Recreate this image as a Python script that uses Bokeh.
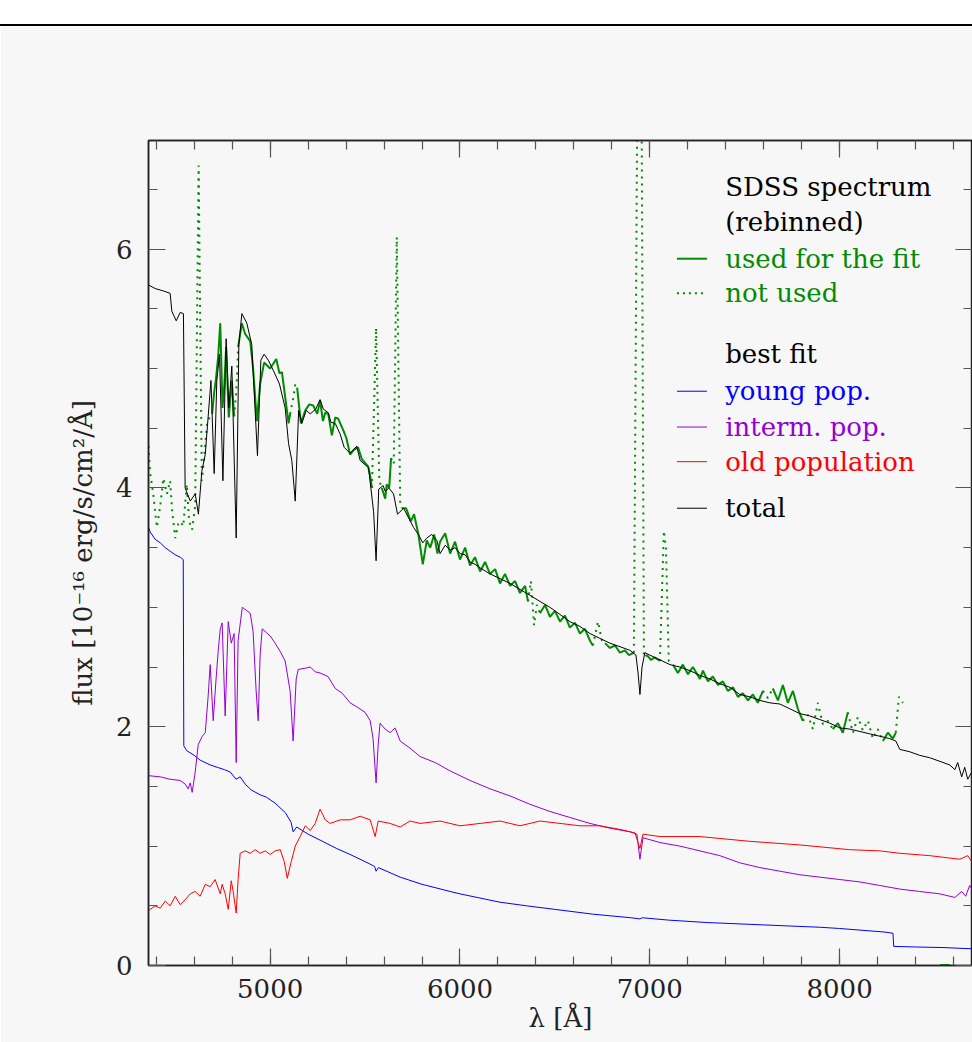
import numpy as np
from bokeh.plotting import figure
from bokeh.models import Label, SingleIntervalTicker, LinearAxis, Range1d, Div, CustomJSTickFormatter
from bokeh.layouts import column
from bokeh.embed import file_html
from bokeh.resources import INLINE

# ---------------- data (wavelength in Angstrom, flux in 1e-16 erg/s/cm2/A) -------------
young_lam = [4359, 4368, 4394, 4421, 4447, 4473, 4500, 4526, 4542, 4545, 4560, 4600, 4631, 4684,
             4721, 4760, 4790, 4820, 4842, 4868, 4900, 4947, 4980, 5026, 5080, 5110, 5121, 5140,
             5200, 5263, 5350, 5421, 5500, 5550, 5558, 5570, 5685, 5800, 5948, 6000, 6211, 6350,
             6500, 6700, 6900, 6948, 6960, 7100, 7300, 7600, 7900, 8000, 8238, 8281, 8285, 8400,
             8550, 8696]
young_flux = [3.67, 3.63, 3.57, 3.54, 3.50, 3.47, 3.44, 3.42, 3.40, 1.84, 1.80, 1.76, 1.72, 1.68,
              1.66, 1.64, 1.62, 1.56, 1.58, 1.52, 1.47, 1.43, 1.41, 1.36, 1.28, 1.20, 1.12, 1.16,
              1.10, 1.05, 0.98, 0.93, 0.87, 0.83, 0.79, 0.82, 0.74, 0.68, 0.62, 0.60, 0.53, 0.50,
              0.47, 0.43, 0.40, 0.39, 0.40, 0.38, 0.36, 0.34, 0.32, 0.31, 0.28, 0.27, 0.16, 0.155,
              0.15, 0.14]

interm_lam = [4359, 4421, 4473, 4526, 4552, 4568, 4579, 4589, 4605, 4621, 4642, 4658, 4673, 4684,
              4700, 4715, 4726, 4737, 4747, 4763, 4779, 4795, 4810, 4821, 4831, 4853, 4879, 4895,
              4910, 4926, 4937, 4947, 4958, 4979, 5000, 5026, 5053, 5079, 5105, 5121, 5137, 5148,
              5185, 5211, 5237, 5263, 5305, 5343, 5380, 5421, 5463, 5500, 5527, 5542, 5558, 5569,
              5579, 5606, 5632, 5658, 5685, 5737, 5790, 5869, 5948, 6053, 6158, 6264, 6369, 6474,
              6579, 6685, 6790, 6895, 6932, 6948, 6964, 7053, 7158, 7264, 7369, 7474, 7580, 7685,
              7790, 7896, 8001, 8107, 8212, 8317, 8422, 8528, 8607, 8643, 8664, 8685, 8696]
interm_flux = [1.59, 1.58, 1.56, 1.55, 1.52, 1.48, 1.53, 1.45, 1.62, 1.85, 1.92, 1.95, 2.25, 2.52,
               2.05, 2.40, 2.63, 2.82, 2.87, 2.09, 2.88, 2.70, 2.78, 1.70, 2.72, 3.00, 2.97, 2.95,
               2.80, 2.30, 2.05, 2.60, 2.82, 2.79, 2.76, 2.70, 2.63, 2.55, 2.30, 1.88, 2.40, 2.48,
               2.49, 2.50, 2.46, 2.45, 2.42, 2.32, 2.28, 2.20, 2.16, 2.12, 2.05, 1.90, 1.53, 1.85,
               2.03, 1.98, 1.95, 1.99, 1.88, 1.82, 1.75, 1.70, 1.63, 1.55, 1.48, 1.42, 1.35, 1.29,
               1.24, 1.19, 1.15, 1.12, 1.10, 0.89, 1.07, 1.03, 1.00, 0.96, 0.92, 0.86, 0.82, 0.79,
               0.76, 0.74, 0.72, 0.70, 0.67, 0.64, 0.62, 0.60, 0.57, 0.62, 0.58, 0.67, 0.64]

old_lam = [4359, 4394, 4421, 4447, 4473, 4500, 4526, 4552, 4579, 4605, 4631, 4658, 4684, 4710,
           4737, 4747, 4763, 4779, 4795, 4805, 4821, 4831, 4842, 4868, 4895, 4921, 4947, 4974,
           5000, 5026, 5053, 5074, 5090, 5111, 5132, 5158, 5185, 5211, 5237, 5263, 5290, 5316,
           5369, 5421, 5474, 5527, 5553, 5569, 5632, 5685, 5737, 5790, 5895, 6000, 6106, 6211,
           6316, 6421, 6527, 6632, 6737, 6843, 6922, 6948, 6964, 7053, 7264, 7527, 7790, 8054,
           8212, 8317, 8475, 8580, 8633, 8675, 8696]
old_flux = [0.46, 0.50, 0.48, 0.54, 0.50, 0.58, 0.51, 0.55, 0.60, 0.62, 0.58, 0.68, 0.66, 0.72,
            0.60, 0.68, 0.60, 0.47, 0.71, 0.62, 0.44, 0.72, 0.94, 0.96, 0.94, 0.97, 0.94, 0.96,
            0.93, 0.96, 0.97, 0.87, 0.73, 0.87, 1.00, 1.08, 1.17, 1.13, 1.19, 1.31, 1.22, 1.19,
            1.22, 1.22, 1.25, 1.22, 1.08, 1.21, 1.19, 1.16, 1.21, 1.19, 1.21, 1.17, 1.19, 1.21,
            1.17, 1.21, 1.19, 1.17, 1.17, 1.14, 1.11, 0.98, 1.10, 1.08, 1.08, 1.04, 1.01, 0.97,
            0.96, 0.94, 0.92, 0.90, 0.89, 0.92, 0.87]

total_lam = [4359, 4394, 4437, 4473, 4482, 4505, 4526, 4543, 4552, 4579, 4605, 4622, 4640, 4658,
             4688, 4705, 4719, 4733, 4751, 4768, 4782, 4798, 4821, 4835, 4851, 4877, 4903, 4933,
             4951, 4968, 4990, 5018, 5049, 5079, 5097, 5114, 5132, 5150, 5167, 5190, 5211, 5240,
             5263, 5280, 5306, 5320, 5343, 5369, 5390, 5421, 5456, 5474, 5518, 5545, 5558, 5572,
             5595, 5606, 5625, 5650, 5671, 5703, 5729, 5755, 5781, 5804, 5825, 5851, 5878, 5895,
             5922, 5948, 5974, 6000, 6027, 6053, 6079, 6106, 6158, 6211, 6264, 6316, 6369, 6421,
             6474, 6527, 6579, 6632, 6685, 6737, 6790, 6843, 6895, 6927, 6938, 6948, 6959, 6974,
             7000, 7053, 7106, 7158, 7211, 7264, 7317, 7369, 7422, 7474, 7527, 7580, 7632, 7685,
             7738, 7790, 7843, 7896, 7948, 8001, 8054, 8107, 8159, 8212, 8264, 8296, 8317, 8370,
             8422, 8475, 8528, 8580, 8607, 8622, 8643, 8659, 8675, 8696]
total_flux = [5.70, 5.67, 5.65, 5.63, 5.48, 5.40, 5.47, 5.46, 4.00, 3.89, 3.95, 3.78, 4.14, 4.28,
              4.90, 4.12, 4.90, 5.12, 4.06, 5.25, 4.67, 5.02, 3.58, 5.20, 5.46, 5.38, 5.20, 4.27,
              5.07, 5.12, 5.07, 4.98, 4.87, 4.67, 4.37, 4.23, 3.89, 4.65, 4.54, 4.65, 4.62, 4.66,
              4.74, 4.66, 4.63, 4.55, 4.54, 4.45, 4.34, 4.29, 4.35, 4.23, 4.17, 3.80, 3.39, 3.99,
              4.02, 3.97, 4.00, 3.95, 3.78, 3.83, 3.75, 3.67, 3.61, 3.54, 3.58, 3.61, 3.56, 3.45,
              3.52, 3.48, 3.50, 3.45, 3.44, 3.38, 3.36, 3.33, 3.28, 3.24, 3.20, 3.15, 3.10, 3.05,
              3.00, 2.94, 2.88, 2.84, 2.78, 2.74, 2.70, 2.67, 2.64, 2.60, 2.45, 2.27, 2.50, 2.62,
              2.60, 2.56, 2.52, 2.50, 2.47, 2.43, 2.40, 2.36, 2.33, 2.27, 2.25, 2.22, 2.20, 2.19,
              2.15, 2.11, 2.09, 2.06, 2.03, 1.99, 1.98, 1.96, 1.94, 1.92, 1.90, 1.88, 1.81, 1.79,
              1.76, 1.74, 1.71, 1.68, 1.64, 1.70, 1.58, 1.66, 1.56, 1.62]

# observed SDSS spectrum (rebinned)
sdss_lam = [4359, 4368, 4384, 4403, 4421, 4437, 4456, 4473, 4484, 4500, 4516, 4526, 4542, 4561,
            4573, 4589, 4605, 4623, 4640, 4652, 4668, 4684,
            4694, 4705, 4715, 4726, 4737, 4749, 4758, 4768, 4782, 4798,
            4810, 4821, 4826,
            4831, 4851, 4868, 4895, 4910, 4930, 4947, 4968, 5000, 5032, 5049, 5062, 5097,
            5105, 5121, 5132,
            5142, 5162, 5185, 5206, 5227, 5248, 5263, 5278, 5290, 5306, 5325, 5343, 5358, 5386,
            5401, 5421, 5442, 5463, 5483, 5516, 5527,
            5536, 5558, 5575,
            5588, 5606, 5614, 5627,
            5637, 5651, 5667, 5685,
            5694, 5716, 5741, 5758, 5781, 5804, 5825, 5843, 5853, 5864, 5881, 5895, 5922, 5948,
            5974, 6000, 6027, 6053, 6079, 6106, 6132, 6158, 6185, 6211, 6237, 6264, 6290, 6316,
            6343,
            6358, 6374, 6390, 6405,
            6421, 6448, 6474, 6500, 6527, 6553, 6579, 6606, 6632, 6658, 6685,
            6700, 6727, 6748,
            6764, 6790, 6817, 6843, 6869, 6890,
            6916, 6935, 6956, 6969,
            6985, 7006, 7027,
            7053, 7074, 7085, 7100,
            7122, 7148, 7174, 7201, 7227, 7264, 7280, 7306, 7332, 7359, 7385, 7411, 7438, 7464,
            7490, 7517, 7543, 7569,
            7596, 7622,
            7648, 7675, 7701, 7727, 7754, 7780,
            7806, 7833, 7859, 7885, 7912, 7938,
            7964, 7991, 8017,
            8043, 8070, 8096, 8122, 8149, 8175, 8201,
            8228, 8254, 8280,
            8296, 8312, 8333]
sdss_flux = [4.35, 4.12, 3.95, 3.67, 3.85, 4.08, 3.95, 4.06, 3.80, 3.58, 3.70, 3.72, 3.68, 4.03,
             3.72, 3.65, 3.85, 6.70, 4.06, 4.25, 4.55, 4.60,
             4.62, 4.80, 4.92, 5.10, 5.38, 4.67, 4.85, 5.18, 4.59, 4.90,
             4.60, 4.80, 4.95,
             5.18, 5.38, 5.29, 5.23, 5.00, 4.56, 4.87, 5.05, 5.00, 5.08, 4.96, 4.97, 4.54,
             4.62, 4.75, 4.87,
             4.84, 4.54, 4.65, 4.70, 4.69, 4.62, 4.73, 4.56, 4.63, 4.62, 4.44, 4.59, 4.58, 4.48,
             4.42, 4.28, 4.32, 4.34, 4.24, 4.18, 4.10,
             4.00, 5.34, 4.06,
             4.00, 3.91, 4.03, 4.00,
             4.25, 4.20, 6.10, 3.87,
             3.83, 3.83, 3.72, 3.78, 3.61, 3.36, 3.56, 3.50, 3.55, 3.61, 3.45, 3.55, 3.62, 3.45,
             3.55, 3.40, 3.50, 3.35, 3.42, 3.30, 3.38, 3.28, 3.32, 3.20, 3.28, 3.18, 3.22, 3.12,
             3.18,
             3.05, 3.22, 2.85, 3.02,
             2.95, 3.02, 2.92, 2.97, 2.88, 2.93, 2.83, 2.87, 2.78, 2.82, 2.72,
             2.68, 2.88, 2.72,
             2.70, 2.66, 2.68, 2.62, 2.64, 2.60,
             2.62, 7.50, 7.50, 2.58,
             2.60, 2.56, 2.58,
             2.55, 3.64, 3.50, 2.55,
             2.52, 2.45, 2.52, 2.44, 2.50, 2.40, 2.47, 2.38, 2.42, 2.35, 2.38, 2.30, 2.33, 2.25,
             2.28, 2.22, 2.27, 2.20,
             2.30, 2.24,
             2.32, 2.22, 2.35, 2.20, 2.30, 2.15,
             2.05, 2.10, 1.98, 2.20, 2.02, 2.05,
             1.98, 2.03, 1.95,
             2.12, 1.95, 2.08, 1.97, 2.05, 1.90, 1.98,
             1.88, 1.95, 1.90,
             1.95, 2.25, 2.20]
# consecutive runs of the spectrum: (used for the fit?, number of points)
sdss_runs = [(0, 22), (1, 10), (0, 3), (1, 13), (0, 3), (1, 21), (0, 3), (1, 4), (0, 4),
             (1, 29), (0, 4), (1, 11), (0, 3), (1, 6), (0, 4), (1, 3), (0, 4), (1, 18),
             (0, 2), (1, 6), (0, 6), (1, 3), (0, 7), (1, 3), (0, 3)]
sdss_tail_lam = [8530, 8580]
sdss_tail_flux = [0.0, 0.0]

x_ticks_major = 1000
y_ticks_major = 2

legend_rows = ["SDSS spectrum", "(rebinned)", "used for the fit", "not used",
               "best fit", "young pop.", "interm. pop.", "old population", "total"]

# ---------------- styling ----------------
FONT = "DejaVu Serif"
FS = "26px"
BG = "#f7f7f7"
GREEN = "#008c00"
BLUE = "#0000ff"
PURPLE = "#9400d3"
RED = "#ff0000"
BLACK = "#000000"

p = figure(width=972, height=1016, x_range=Range1d(4359, 8700), y_range=Range1d(0, 6.91),
           output_backend="svg", toolbar_location=None,
           min_border_left=148, min_border_right=0, min_border_top=114, min_border_bottom=77,
           background_fill_color=BG, border_fill_color=BG)
p.grid.visible = False
p.outline_line_color = "#222222"
p.outline_line_width = 1.5

xt = SingleIntervalTicker(interval=x_ticks_major, num_minor_ticks=5)
yt = SingleIntervalTicker(interval=y_ticks_major, num_minor_ticks=4)


def style_axis(ax, labels=True):
    ax.axis_line_color = "#222222"
    ax.axis_line_width = 1.5
    ax.major_tick_in = 17
    ax.major_tick_out = 0
    ax.minor_tick_in = 9
    ax.minor_tick_out = 0
    ax.major_tick_line_color = "#555555"
    ax.minor_tick_line_color = "#555555"
    ax.major_tick_line_width = 1.2
    ax.minor_tick_line_width = 1.2
    if labels:
        ax.major_label_text_font = FONT
        ax.major_label_text_font_size = FS
        ax.major_label_text_color = "#222222"
        ax.axis_label_text_font = FONT
        ax.axis_label_text_font_size = FS
        ax.axis_label_text_font_style = "normal"
        ax.axis_label_text_color = "#222222"
    else:
        ax.formatter = CustomJSTickFormatter(code="return ''")
        ax.major_label_standoff = 0


p.xaxis.ticker = xt
p.yaxis.ticker = yt
style_axis(p.xaxis[0])
style_axis(p.yaxis[0])
p.xaxis.axis_label = "λ [Å]"
p.yaxis.axis_label = "flux [10⁻¹⁶ erg/s/cm²/Å]"
p.xaxis.major_label_standoff = 13
p.xaxis.axis_label_standoff = 2
p.yaxis.major_label_standoff = 16
p.yaxis.axis_label_standoff = 15

top_ax = LinearAxis(ticker=xt)
right_ax = LinearAxis(ticker=yt)
style_axis(top_ax, labels=False)
style_axis(right_ax, labels=False)
p.add_layout(top_ax, "above")
p.add_layout(right_ax, "right")

# model components
p.line(young_lam, young_flux, line_color=BLUE, line_width=1)
p.line(interm_lam, interm_flux, line_color=PURPLE, line_width=1)
p.line(old_lam, old_flux, line_color=RED, line_width=1)

# observed spectrum, split into used / not-used runs (each run joined to the next one)
solid_xs, solid_ys, dot_xs, dot_ys = [], [], [], []
start = 0
n = len(sdss_lam)
for used, count in sdss_runs:
    stop = min(start + count, n - 1)
    xs = sdss_lam[start:stop + 1]
    ys = sdss_flux[start:stop + 1]
    if used:
        solid_xs.append(xs); solid_ys.append(ys)
    else:
        dot_xs.append(xs); dot_ys.append(ys)
    start += count
p.multi_line(dot_xs, dot_ys, line_color=GREEN, line_width=2, line_dash="2 5")
p.multi_line(solid_xs, solid_ys, line_color=GREEN, line_width=2)
p.line(sdss_tail_lam, sdss_tail_flux, line_color=GREEN, line_width=3)

# best-fit total
p.line(total_lam, total_flux, line_color=BLACK, line_width=1)

# legend (placed in the empty upper right region, data coordinates)
row_y = [6.52, 6.23, 5.92, 5.63, 5.12, 4.81, 4.51, 4.22, 3.83]
row_col = [BLACK, BLACK, GREEN, GREEN, BLACK, BLUE, PURPLE, RED, BLACK]
key_style = [None, None, "solid", "dotted", None, "solid", "solid", "solid", "solid"]
key_width = [0, 0, 2, 2, 0, 1, 1, 1, 1]
for txt, yy, col, ks, kw in zip(legend_rows, row_y, row_col, key_style, key_width):
    p.add_layout(Label(x=7397, y=yy, text=txt, text_font=FONT, text_font_size=FS,
                       text_color=col, text_baseline="middle", text_align="left"))
    if ks is not None:
        p.line([7143, 7301], [yy, yy], line_color=col, line_width=kw,
               line_dash="2 4" if ks == "dotted" else "solid")

top = Div(width=972, height=26, styles={"background-color": "white",
                                        "border-bottom": "2px solid black",
                                        "box-sizing": "border-box", "margin": "0"})
layout = column(top, p, spacing=0)

open("out.html", "w").write(file_html(layout, INLINE))
